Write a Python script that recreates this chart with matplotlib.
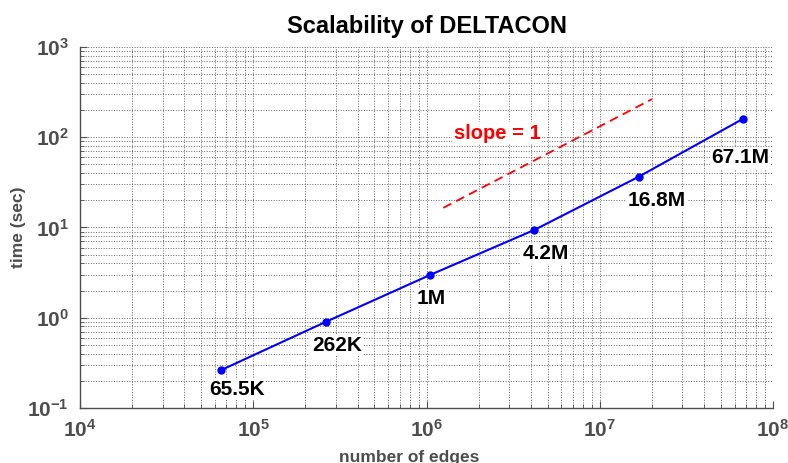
import matplotlib
matplotlib.use("Agg")
import matplotlib.pyplot as plt
import numpy as np

plt.rcParams['font.family'] = ['Liberation Sans', 'DejaVu Sans']
plt.rcParams['font.weight'] = 'bold'
plt.rcParams['mathtext.fontset'] = 'custom'
plt.rcParams['mathtext.rm'] = 'Liberation Sans:bold'
plt.rcParams['mathtext.it'] = 'Liberation Sans:bold'
plt.rcParams['mathtext.bf'] = 'Liberation Sans:bold'

# data
edges = [65536, 262144, 1048576, 4194304, 16777216, 67108864]
times = [0.264, 0.90, 2.98, 9.4, 36.5, 160]
point_labels = ["65.5K", "262K", "1M", "4.2M", "16.8M", "67.1M"]
label_offsets = [(11, -14), (8, -17), (1, -17), (8, -17), (13, -17), (-2, -28)]

slope_x = [1.25e6, 2.0e7]
slope_y = [16.5, 264]

gray = '#4d4d4d'

fig = plt.figure(figsize=(7.88, 4.63), dpi=100)
ax = fig.add_axes([0.1015, 0.1188, 0.8795, 0.7797])

ax.plot(slope_x, slope_y, color='red', linestyle='--', linewidth=1.3, dashes=(5, 3))
ax.plot(edges, times, color='blue', marker='o', markersize=5, linewidth=1.5)

for x, y, lab, off in zip(edges, times, point_labels, label_offsets):
    ax.annotate(lab, (x, y), xytext=off, textcoords='offset points',
                ha='center', va='center', fontsize=15, fontweight='bold', color='black',
                bbox=dict(facecolor='white', edgecolor='none', pad=1.0))

ax.text(2.55e6, 111, "slope = 1", color='red', fontsize=14.5, fontweight='bold',
        ha='center', va='center', bbox=dict(facecolor='white', edgecolor='none', pad=1.0))

ax.set_xscale('log')
ax.set_yscale('log')
ax.set_xlim(1e4, 1e8)
ax.set_ylim(1e-1, 1e3)

ax.grid(True, which='both', linestyle=':', color='#666666', linewidth=0.7)
ax.set_axisbelow(True)

ax.tick_params(which='both', direction='in', colors=gray, labelsize=15, top=False, right=False)
ax.tick_params(which='major', length=5, pad=8)
ax.tick_params(which='minor', length=3)
for s in ['top', 'right']:
    ax.spines[s].set_visible(False)
for s in ['left', 'bottom']:
    ax.spines[s].set_color(gray)
    ax.spines[s].set_linewidth(1.0)

ax.set_title("Scalability of DELTACON", fontsize=17, fontweight='bold', pad=10)
ax.set_xlabel("number of edges", fontsize=12.5, fontweight='bold', color=gray)
ax.xaxis.set_label_coords(0.475, -0.115)
ax.set_ylabel("time (sec)", fontsize=12.5, fontweight='bold', color=gray)
ax.yaxis.set_label_coords(-0.078, 0.5)

fig.savefig("out.png", dpi=100)
